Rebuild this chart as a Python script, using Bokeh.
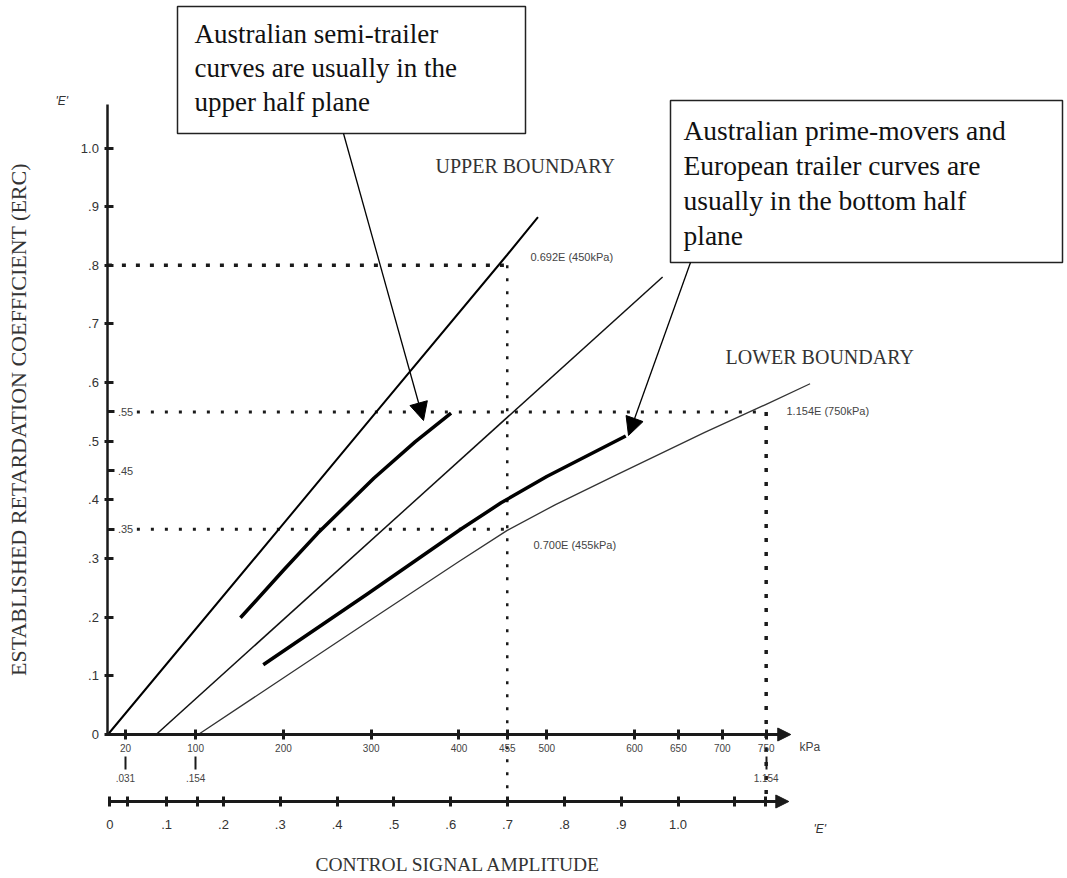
from bokeh.plotting import figure
from bokeh.models import Range1d, LinearAxis, FixedTicker, Arrow, NormalHead
from bokeh.core.properties import value
from bokeh.embed import file_html
from bokeh.resources import INLINE

# ---------------- data ----------------
erc_ticks = [0, 0.1, 0.2, 0.3, 0.4, 0.5, 0.6, 0.7, 0.8, 0.9, 1.0]
erc_labels = ["0", ".1", ".2", ".3", ".4", ".5", ".6", ".7", ".8", ".9", "1.0"]
erc_marks = [0.35, 0.45, 0.55]
erc_mark_labels = [".35", ".45", ".55"]

kpa_ticks = [20, 100, 200, 300, 400, 455, 500, 600, 650, 700, 750]
conv_kpa = [20, 100, 750]
conv_labels = [".031", ".154", "1.154"]

e_ticks = [0, 0.1, 0.2, 0.3, 0.4, 0.5, 0.6, 0.7, 0.8, 0.9, 1.0]
e_labels = ["0", ".1", ".2", ".3", ".4", ".5", ".6", ".7", ".8", ".9", "1.0"]
e_marks = [0.031, 0.154, 1.1, 1.154]

upper_kpa = [0, 197, 303, 455, 490]
upper_erc = [0, 0.354, 0.545, 0.818, 0.882]
middle_kpa = [55, 632]
middle_erc = [0, 0.78]
lower_kpa = [103, 300, 400, 455, 510, 580, 680, 750, 800]
lower_erc = [0, 0.196, 0.295, 0.348, 0.392, 0.443, 0.515, 0.563, 0.598]
semi_kpa = [151, 200, 239, 303, 350, 391]
semi_erc = [0.199, 0.28, 0.343, 0.437, 0.499, 0.548]
prime_kpa = [177, 296, 402, 448, 500, 590]
prime_erc = [0.119, 0.24, 0.35, 0.395, 0.44, 0.509]

ref_erc = [0.8, 0.55, 0.35]
ref_kpa_start = [0, 33, 33]
ref_kpa = [455, 750, 455]
ref_vert_kpa = [455, 750]
ref_vert_erc = [0.8, 0.55]

box1_lines = ["Australian semi-trailer", "curves are usually in the", "upper half plane"]
box2_lines = ["Australian prime-movers and", "European trailer curves are",
              "usually in the bottom half", "plane"]

# ---------------- layout (screen calibration) ----------------
W, H = 1064, 876
PX0, PXK = 107.4, 0.8777      # screen x of 0 kPa, px per kPa
PY0, PYE = 734.0, 586.5       # screen y of ERC 0, px per ERC unit
PE0, PXE = 109.3, 568.2       # screen x of E 0, px per E unit


def kx(px):
    return (px - PX0) / PXK


def ey(py):
    return (PY0 - py) / PYE


p = figure(width=W, height=H, output_backend="svg", toolbar_location=None,
           x_axis_type=None, y_axis_type=None, min_border=0,
           x_range=Range1d(kx(0), kx(W)), y_range=Range1d(ey(H), ey(0)))
p.extra_x_ranges = {"E": Range1d((0 - PE0) / PXE, (W - PE0) / PXE)}
p.outline_line_color = None
p.background_fill_color = "white"
p.border_fill_color = "white"

SANS = "Liberation Sans"
SERIF = "Liberation Serif"
INK = "#1a1a1a"

# left ERC axis
yax = LinearAxis(fixed_location=0, bounds=(0, 1.075),
                 ticker=FixedTicker(ticks=erc_ticks),
                 major_label_overrides=dict(zip(erc_ticks, erc_labels)),
                 axis_label="ESTABLISHED RETARDATION COEFFICIENT (ERC)",
                 axis_label_text_font=SERIF, axis_label_text_font_style="normal",
                 axis_label_text_font_size="22px", axis_label_text_color="#333",
                 axis_label_standoff=46,
                 axis_line_width=2.5, axis_line_color=INK,
                 major_tick_in=6, major_tick_out=3, major_tick_line_width=3,
                 major_tick_line_color=INK, minor_tick_line_color=None,
                 major_label_text_font=SANS, major_label_text_font_size="13px",
                 major_label_text_color="#333", major_label_standoff=6)
p.add_layout(yax, "left")

# small .35/.45/.55 labels inside the axis
rax = LinearAxis(fixed_location=0, ticker=FixedTicker(ticks=erc_marks),
                 major_label_overrides=dict(zip(erc_marks, erc_mark_labels)),
                 axis_line_color=None, major_tick_in=0, major_tick_out=7,
                 major_tick_line_width=3, major_tick_line_color=INK,
                 minor_tick_line_color=None,
                 major_label_text_font=SANS, major_label_text_font_size="11px",
                 major_label_text_color="#444", major_label_standoff=3)
p.add_layout(rax, "right")

# kPa axis
kax = LinearAxis(fixed_location=0, bounds=(0, 772),
                 ticker=FixedTicker(ticks=kpa_ticks),
                 axis_line_width=3, axis_line_color=INK,
                 major_tick_in=5, major_tick_out=5, major_tick_line_width=3,
                 major_tick_line_color=INK, minor_tick_line_color=None,
                 major_label_text_font=SANS, major_label_text_font_size="10px",
                 major_label_text_color="#444", major_label_standoff=4)
p.add_layout(kax, "below")

# conversion marks between the axes
cax = LinearAxis(fixed_location=ey(756), ticker=FixedTicker(ticks=conv_kpa),
                 major_label_overrides=dict(zip(conv_kpa, conv_labels)),
                 axis_line_color=None, major_tick_in=0, major_tick_out=13,
                 major_tick_line_width=2, major_tick_line_color=INK,
                 minor_tick_line_color=None,
                 major_label_text_font=SANS, major_label_text_font_size="10px",
                 major_label_text_color="#444", major_label_standoff=4)
p.add_layout(cax, "below")

# E' axis
eax = LinearAxis(x_range_name="E", fixed_location=ey(801), bounds=(0, 1.18),
                 ticker=FixedTicker(ticks=e_ticks + e_marks),
                 major_label_overrides={**dict(zip(e_ticks, e_labels)),
                                        **{m: "" for m in e_marks}},
                 axis_line_width=3, axis_line_color=INK,
                 major_tick_in=5, major_tick_out=5, major_tick_line_width=3,
                 major_tick_line_color=INK, minor_tick_line_color=None,
                 major_label_text_font=SANS, major_label_text_font_size="13px",
                 major_label_text_color="#333", major_label_standoff=13)
p.add_layout(eax, "below")

# axis arrow heads
p.add_layout(Arrow(end=NormalHead(size=13, fill_color=INK, line_color=INK),
                   x_start=755, y_start=0, x_end=778, y_end=0,
                   line_width=3, line_color=INK))
p.add_layout(Arrow(end=NormalHead(size=13, fill_color=INK, line_color=INK),
                   x_range_name="E", x_start=1.15, y_start=ey(801), x_end=1.195,
                   y_end=ey(801), line_width=3, line_color=INK))

# reference dotted lines
for xs, xe, ye, w, dash in zip(ref_kpa_start, ref_kpa, ref_erc, [3.5, 3, 3],
                               ["4 10", "3 11", "3 11"]):
    p.line([xs, xe], [ye, ye], line_width=w, line_dash=dash, line_color=INK)
p.line([ref_vert_kpa[0]] * 2, [ref_vert_erc[0], ey(801)], line_width=2.5,
       line_dash="3 10", line_color=INK)
p.line([ref_vert_kpa[1]] * 2, [ref_vert_erc[1], ey(801)], line_width=3.5,
       line_dash="4 10", line_color=INK)

# curves
p.line(upper_kpa, upper_erc, line_width=2, line_color="black")
p.line(middle_kpa, middle_erc, line_width=1.5, line_color="#111")
p.line(lower_kpa, lower_erc, line_width=1.3, line_color="#333", line_join="round")
p.line(semi_kpa, semi_erc, line_width=3.5, line_color="black", line_join="round")
p.line(prime_kpa, prime_erc, line_width=3.5, line_color="black", line_join="round")

# boxes
p.quad(left=[kx(177), kx(670)], right=[kx(525), kx(1062)],
       top=[ey(6), ey(100)], bottom=[ey(133), ey(262)],
       fill_color="white", line_color="#222", line_width=1.5)
p.text(x=[kx(194)] * 3, y=[ey(33 + 34 * i) for i in range(3)], text=box1_lines,
       text_font=value(SERIF), text_font_size="27px", text_color="#111",
       text_baseline="middle", text_align="left")
p.text(x=[kx(683)] * 4, y=[ey(130 + 35 * i) for i in range(4)], text=box2_lines,
       text_font=value(SERIF), text_font_size="27.5px", text_color="#111",
       text_baseline="middle", text_align="left")

# pointer arrows
p.add_layout(Arrow(end=NormalHead(size=18, fill_color="black", line_color="black"),
                   x_start=kx(343), y_start=ey(133), x_end=kx(423), y_end=ey(420),
                   line_width=1.3, line_color="black"))
p.add_layout(Arrow(end=NormalHead(size=18, fill_color="black", line_color="black"),
                   x_start=kx(690), y_start=ey(262), x_end=kx(628), y_end=ey(435),
                   line_width=1.3, line_color="black"))

# boundary labels
p.text(x=[kx(435), kx(725)], y=[ey(165), ey(356)],
       text=["UPPER BOUNDARY", "LOWER BOUNDARY"],
       text_font=value(SERIF), text_font_size="20px", text_color="#333",
       text_baseline="middle", text_align="left")

# small value notes
p.text(x=[kx(530), kx(786), kx(533)], y=[ey(256), ey(410), ey(544)],
       text=["0.692E (450kPa)", "1.154E (750kPa)", "0.700E (455kPa)"],
       text_font=value(SANS), text_font_size="11px", text_color="#444",
       text_baseline="middle", text_align="left")

# bottom axis title
p.text(x=[kx(458)], y=[ey(864)], text=["CONTROL SIGNAL AMPLITUDE"],
       text_font=value(SERIF), text_font_size="19.5px", text_color="#333",
       text_baseline="middle", text_align="center")

# axis unit labels
p.text(x=[kx(799)], y=[ey(746)], text=["kPa"], text_font=value(SANS),
       text_font_size="12px", text_color="#444", text_baseline="middle")
p.text(x=[kx(813), kx(55)], y=[ey(828), ey(100)], text=["'E'", "'E'"],
       text_font=value(SANS), text_font_size="12px", text_font_style="italic",
       text_color="#333", text_baseline="middle")

open("out.html", "w").write(file_html(p, INLINE))
